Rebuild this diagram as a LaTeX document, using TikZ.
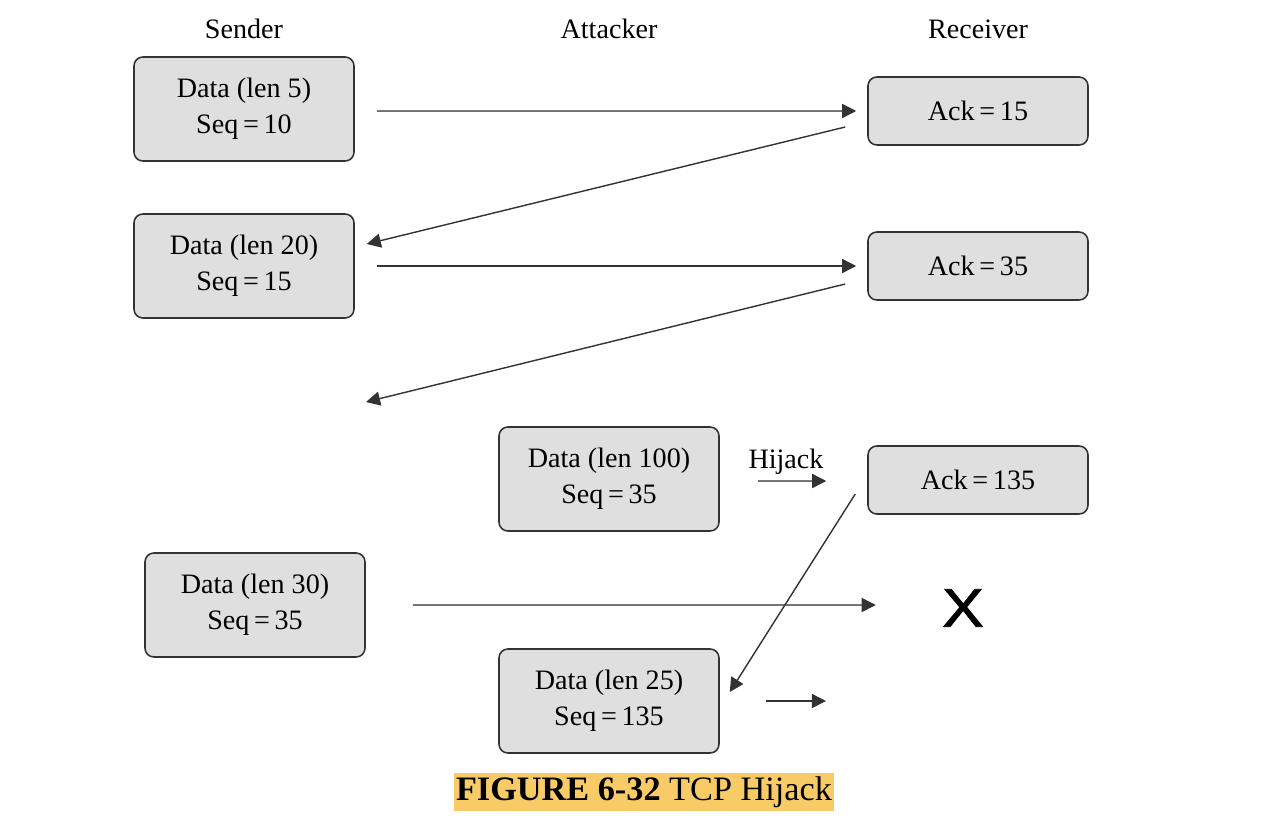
\documentclass[tikz,border=0pt]{standalone}
\usepackage{fontspec}
\setmainfont{Liberation Serif}
\newfontfamily\markfont[FakeStretch=1.15,FakeBold=1.6]{Liberation Sans}
\usetikzlibrary{arrows.meta}
\definecolor{boxgray}{HTML}{DFDFE0}
\definecolor{linegray}{HTML}{333333}
\definecolor{capyellow}{HTML}{F8CB66}
\begin{document}
\begin{tikzpicture}[
        x=0.02cm, y=-0.02cm,
        databox/.style={
            rectangle,
            rounded corners=5pt,
            draw=linegray,
            fill=boxgray,
            line width=0.9pt,
            align=center,
            minimum width=4.4cm,
            minimum height=2.08cm,
            font=\rmfamily\fontsize{16}{20.5}\selectfont
        },
        ackbox/.style={
            databox,
            minimum height=1.36cm
        },
        head/.style={font=\rmfamily\fontsize{16}{20}\selectfont},
        arrow/.style={-{Triangle[length=8pt,width=8pt]}, draw=linegray, fill=linegray, line width=0.8pt}
    ]

        \useasboundingbox (0,0) rectangle (1268,822);

        \node[head] (sender) at (244,29) {Sender};
        \node[head] (attacker) at (609,29) {Attacker};
        \node[head] (receiver) at (978,29) {Receiver};

        \node[databox] (s1) at (244,109) {Data (len 5)\\Seq\,=\,10};
        \node[ackbox] (r1) at (978,111) {Ack\,=\,15};
        \node[databox] (s2) at (244,266) {Data (len 20)\\Seq\,=\,15};
        \node[ackbox] (r2) at (978,266) {Ack\,=\,35};
        \coordinate (lost) at (366,402);
        \node[databox] (a1) at (609,479) {Data (len 100)\\Seq\,=\,35};
        \node[ackbox] (r3) at (978,480) {Ack\,=\,135};
        \node[databox] (s3) at (255,605) {Data (len 30)\\Seq\,=\,35};
        \node[inner sep=0pt, font=\markfont\fontsize{31}{36}\selectfont] (drop) at (963,608) {X};
        \node[databox] (a2) at (609,701) {Data (len 25)\\Seq\,=\,135};
        \coordinate (fwd) at (826,701);

        \draw[arrow] ([xshift=0.44cm,yshift=-0.04cm]s1.east) -- ([xshift=-0.22cm]r1.west);
        \draw[arrow] ([xshift=-0.44cm,yshift=-0.32cm]r1.west) -- ([xshift=0.24cm,yshift=0.44cm]s2.east);
        \draw[arrow] ([xshift=0.44cm]s2.east) -- ([xshift=-0.22cm]r2.west);
        \draw[arrow] ([xshift=-0.44cm,yshift=-0.36cm]r2.west) -- (lost);
        \draw[arrow] ([xshift=0.76cm,yshift=-0.04cm]a1.east) -- node[above=0pt, xshift=-0.12cm, head] (hijack) {Hijack} ([xshift=-0.82cm,yshift=-0.02cm]r3.west);
        \draw[arrow] ([xshift=-0.24cm,yshift=-0.28cm]r3.west) -- ([xshift=0.2cm,yshift=0.18cm]a2.east);
        \draw[arrow] ([xshift=0.94cm]s3.east) -- ([xshift=-1.32cm,yshift=0.06cm]drop.west);
        \draw[arrow] ([xshift=0.92cm]a2.east) -- (fwd);

        \node[fill=capyellow, inner xsep=1pt, inner ysep=2pt, font=\rmfamily\fontsize{19.5}{23}\selectfont] (caption) at (644,792) {\textbf{FIGURE 6-32} TCP Hijack};

    \end{tikzpicture}
\end{document}
